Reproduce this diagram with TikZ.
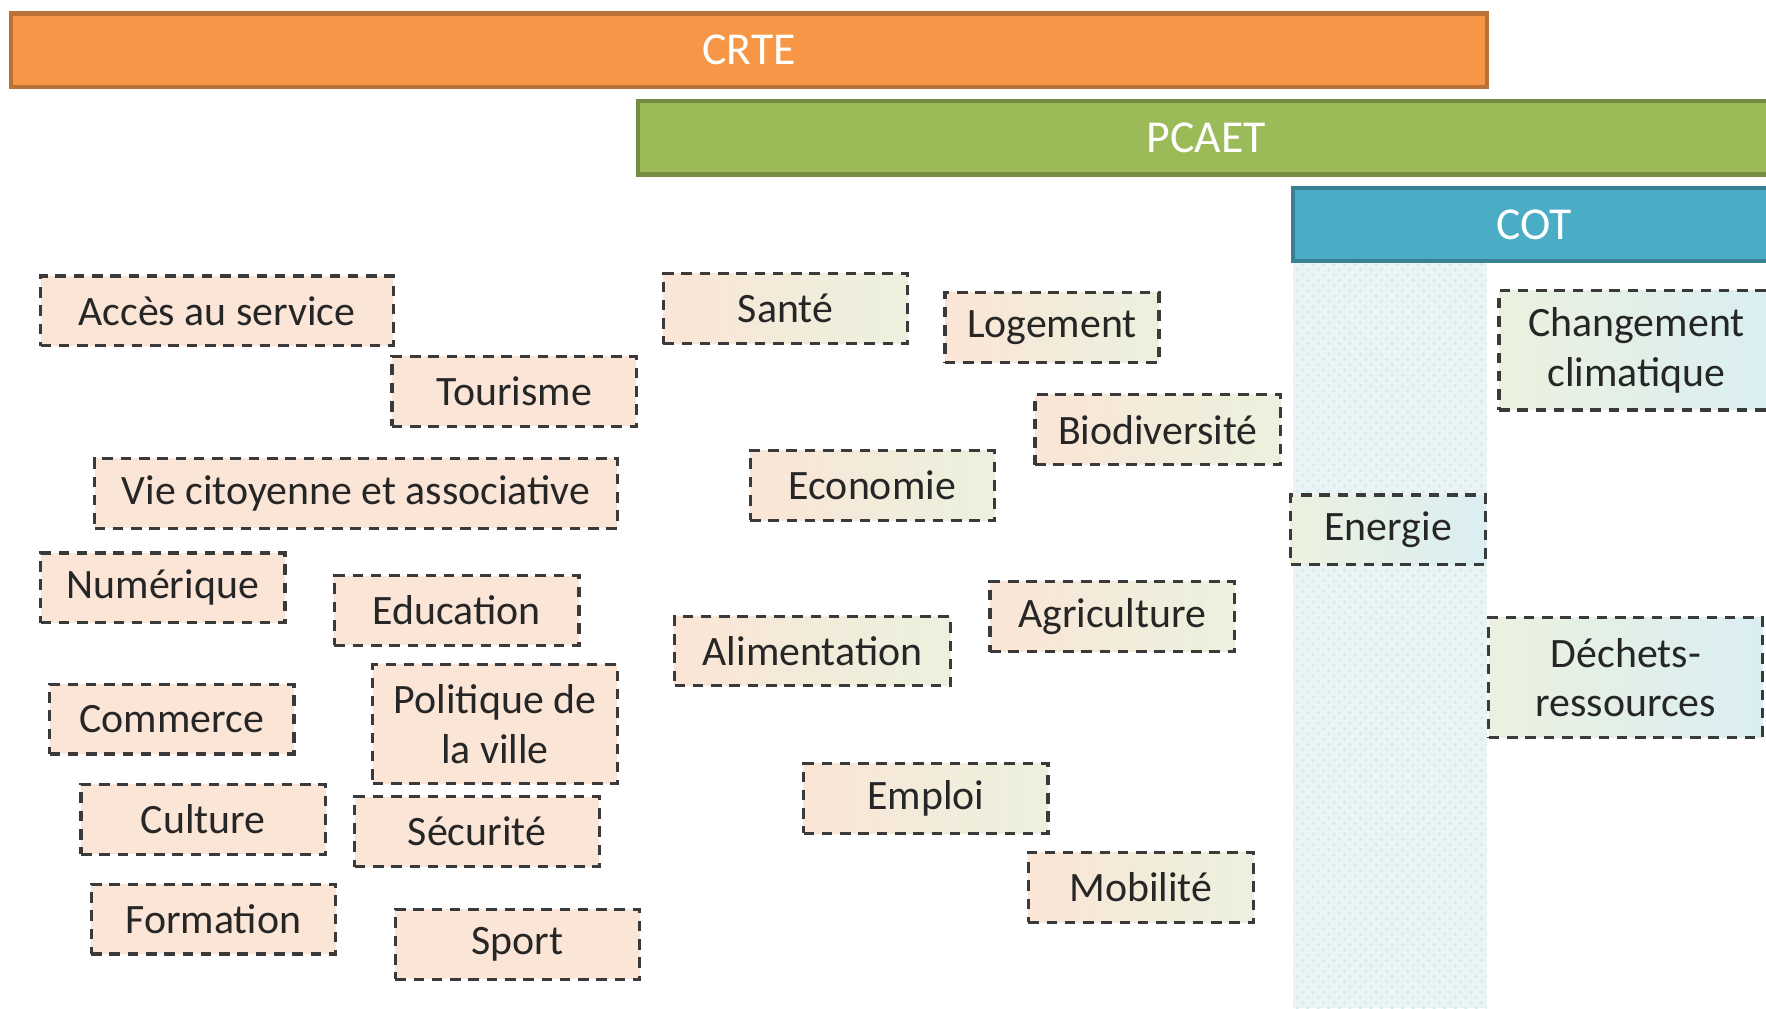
\documentclass[tikz,border=0pt]{standalone}
\usepackage{fontspec}
\setmainfont{Carlito}
\usetikzlibrary{patterns}
\definecolor{crteorange}{HTML}{F79646}
\definecolor{pcaetgreen}{HTML}{9BBB59}
\definecolor{cotblue}{HTML}{4BACC6}
\definecolor{peach}{HTML}{FBE5D6}
\definecolor{palegreen}{HTML}{EBF1DE}
\definecolor{paleblue}{HTML}{DAEEF3}
\definecolor{bandblue}{HTML}{EAF4F4}
\definecolor{boxline}{HTML}{3A3A3A}
\definecolor{textgray}{HTML}{262626}
\begin{document}
\begin{tikzpicture}[x=0.011263cm, y=-0.011263cm,
    bar/.style={draw=#1!75!black, fill=#1, line width=1.2pt, inner sep=0pt,
      minimum height=0.732cm, text=white, font=\fontsize{13}{15}\selectfont},
    topic/.style={draw=boxline, line width=0.9pt, dash pattern=on 3pt off 2.2pt,
      fill=peach, inner sep=0pt, minimum width=2.444cm, minimum height=0.698cm,
      text=textgray, align=center, font=\fontsize{11.9}{14.1}\selectfont},
    mixed/.style={topic, left color=peach, right color=palegreen},
    cotmix/.style={topic, left color=palegreen, right color=paleblue},
    tall/.style={minimum height=1.194cm}]
        \useasboundingbox (0,0) rectangle (1568,895);
        \clip (0,0) rectangle (1568,895);
        \fill [bandblue] (1148,232) rectangle (1320,895);
        \fill [pattern=crosshatch dots, pattern color=cotblue!25] (1148,232) rectangle (1320,895);
        \node [bar=crteorange, minimum width=14.755cm] (crte) at (665,44.5) {CRTE};
        \node [bar=pcaetgreen, minimum width=11.365cm] (pcaet) at (1071,122.5) {PCAET};
        \node [bar=cotblue, minimum width=4.821cm] (cot) at (1362,199.5) {COT};
        \node [topic, minimum width=3.525cm] (acces) at (192.5,276) {Accès au service};
        \node [topic] (tourisme) at (456.5,347.5) {Tourisme};
        \node [topic, minimum width=5.226cm] (vie) at (316,438) {Vie citoyenne et associative};
        \node [topic] (numerique) at (144.5,522) {Numérique};
        \node [topic] (education) at (405.5,542) {Education};
        \node [topic] (commerce) at (152.5,638.5) {Commerce};
        \node [topic, tall] (politique) at (439.5,643) {Politique de\\la ville};
        \node [topic] (culture) at (180.5,727.5) {Culture};
        \node [topic] (securite) at (423.5,738.5) {Sécurité};
        \node [topic] (formation) at (189.5,816) {Formation};
        \node [topic] (sport) at (459.5,838.5) {Sport};
        \node [mixed] (sante) at (697.5,274) {Santé};
        \node [mixed, minimum width=2.14cm] (logement) at (934,291) {Logement};
        \node [mixed, minimum width=2.455cm] (biodiv) at (1028,381.5) {Biodiversité};
        \node [mixed] (economie) at (774.5,431) {Economie};
        \node [mixed] (agriculture) at (987.5,547.5) {Agriculture};
        \node [mixed, minimum width=2.759cm] (alimentation) at (721.5,578) {Alimentation};
        \node [mixed] (emploi) at (822,709) {Emploi};
        \node [mixed, minimum width=2.253cm] (mobilite) at (1013,788) {Mobilité};
        \node [cotmix, minimum width=1.948cm] (energie) at (1232.5,470.5) {Energie};
        \node [cotmix, tall, minimum width=2.748cm] (climat) at (1453,311) {Changement\\climatique};
        \node [cotmix, tall, minimum width=2.737cm] (dechets) at (1443.5,601.5) {Déchets-\\ressources};
\end{tikzpicture}
\end{document}
